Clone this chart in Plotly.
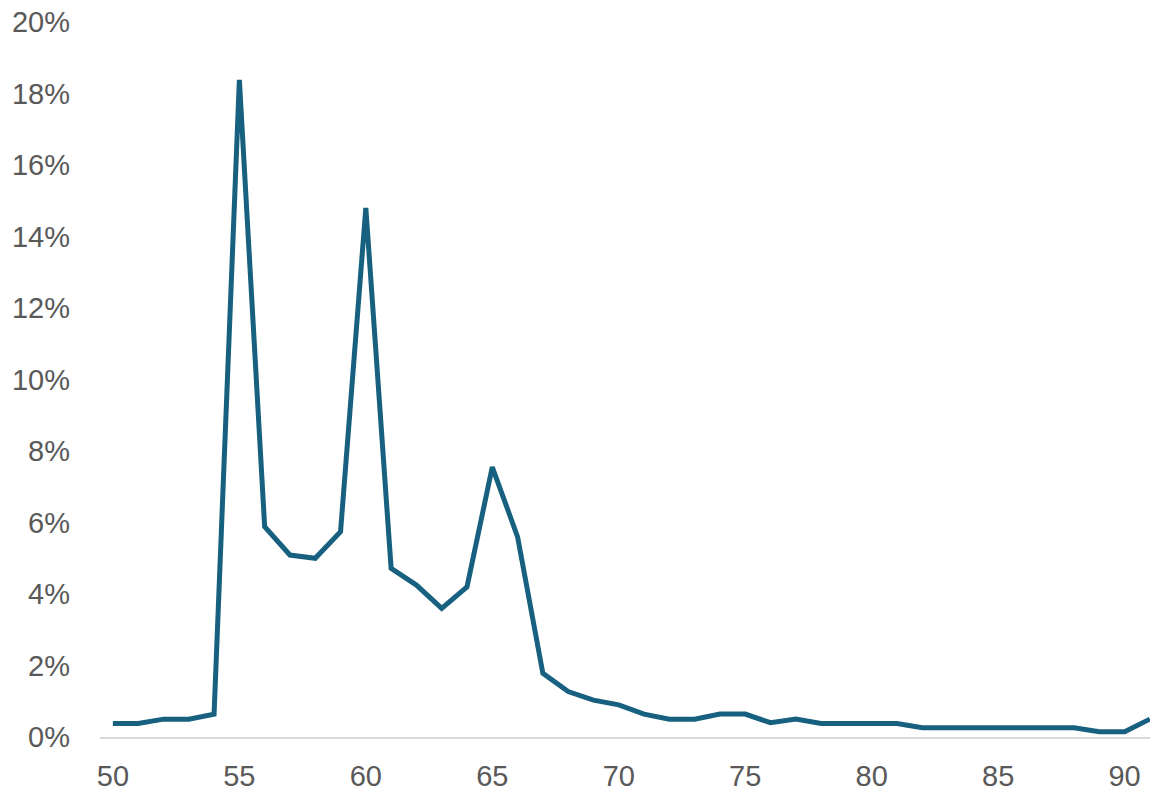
import plotly.graph_objects as go

ages = list(range(50, 92))
shares = [0.38, 0.38, 0.50, 0.50, 0.64, 18.38, 5.88, 5.09, 5.00, 5.74,
          14.80, 4.72, 4.25, 3.60, 4.20, 7.55, 5.60, 1.78, 1.27, 1.03,
          0.90, 0.64, 0.50, 0.50, 0.64, 0.64, 0.40, 0.50, 0.38, 0.38,
          0.38, 0.38, 0.26, 0.26, 0.26, 0.26, 0.26, 0.26, 0.26, 0.15,
          0.15, 0.50]
y_ticks = [0, 2, 4, 6, 8, 10, 12, 14, 16, 18, 20]
x_ticks = [50, 55, 60, 65, 70, 75, 80, 85, 90]

fig = go.Figure()
fig.add_trace(go.Scatter(
    x=ages, y=shares, mode="lines",
    line=dict(color="#17607F", width=5),
    hoverinfo="skip",
))

font = dict(family="Liberation Sans, Arial, sans-serif", size=29, color="#595959")

fig.update_layout(
    width=1150, height=784,
    margin=dict(l=92, r=0, t=14, b=55, autoexpand=False),
    paper_bgcolor="white", plot_bgcolor="white",
    showlegend=False,
    font=font,
    xaxis=dict(
        range=[49.49, 91.32],
        tickvals=x_ticks, ticktext=[str(v) for v in x_ticks],
        showgrid=False, zeroline=False,
        showline=True, linecolor="#D9D9D9", linewidth=2,
        ticks="", ticklabelstandoff=12, automargin=False,
        ticklabeloverflow="allow",
        tickfont=font,
    ),
    yaxis=dict(
        range=[0, 20],
        tickvals=y_ticks, ticktext=[f"{v}%" for v in y_ticks],
        showgrid=False, zeroline=False, showline=False,
        ticks="", ticklabelstandoff=29, automargin=False,
        ticklabeloverflow="allow",
        tickfont=font,
    ),
)

fig.write_html("out.html")
